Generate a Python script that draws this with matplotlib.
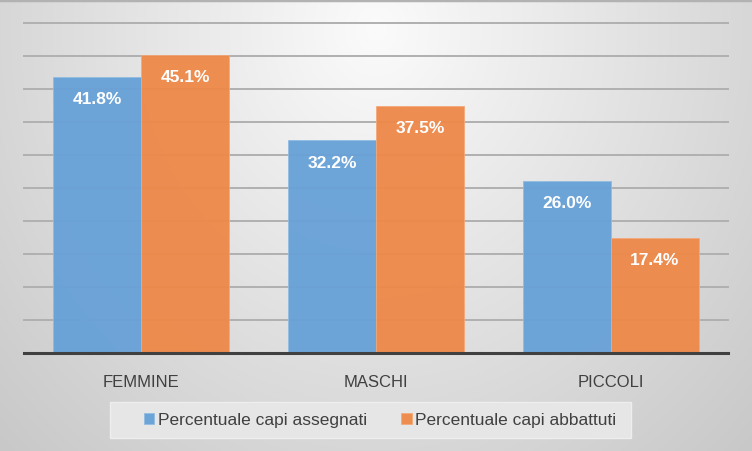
import numpy as np
import matplotlib
matplotlib.use("Agg")
import matplotlib.pyplot as plt
from matplotlib.patches import Rectangle

plt.rcParams['font.family'] = ['Liberation Sans', 'DejaVu Sans']

# Données
categories = ["FEMMINE", "MASCHI", "PICCOLI"]
assegnati = [41.8, 32.2, 26.0]
abbattuti = [45.1, 37.5, 17.4]
serie = ["Percentuale capi assegnati", "Percentuale capi abbattuti"]

blu = '#67a1d7'
arancio = '#ee8848'

W, H = 752, 452
fig = plt.figure(figsize=(W / 100, H / 100), dpi=100)

# Fond en dégradé gris
bg = fig.add_axes([0, 0, 1, 1], zorder=-10)
xx, yy = np.meshgrid(np.arange(W), np.arange(H))
d = np.sqrt(((xx - 376) / 376.0) ** 2 + ((yy - 30) / 420.0) ** 2)
val = np.clip(251 - 36 * d, 200, 251) / 255.0
bg.imshow(np.dstack([val, val, val]), aspect='auto', extent=(0, W, H, 0))
bg.set_xlim(0, W)
bg.set_ylim(H, 0)
bg.axis('off')
bg.plot([0, W], [1, 1], color='#b2b2b2', lw=2.5)

# Boîte de légende
bg.add_patch(Rectangle((110, 403), 521, 36, facecolor='#e6e6e6',
                       edgecolor='#eeeeee', lw=1.0))

ax = fig.add_axes([24 / W, 1 - 354 / H, 704 / W, 330 / H])
ax.patch.set_alpha(0)
x = np.arange(len(categories))
w = 0.375
b1 = ax.bar(x - w / 2, assegnati, w, color=blu, edgecolor='#8fbbe3',
            lw=0.6, alpha=0.95, zorder=3, label=serie[0])
b2 = ax.bar(x + w / 2, abbattuti, w, color=arancio, edgecolor='#f3a877',
            lw=0.6, alpha=0.95, zorder=3, label=serie[1])

for bars, vals in ((b1, assegnati), (b2, abbattuti)):
    for r, v in zip(bars, vals):
        ax.annotate("%.1f%%" % v, (r.get_x() + r.get_width() / 2, v),
                    xytext=(0, -15.5), textcoords='offset points',
                    ha='center', va='center', color='white',
                    fontsize=12.5, fontweight='bold', zorder=5)

ax.set_xlim(-0.5, 2.5)
ax.set_ylim(0, 50)
ax.set_yticks(np.arange(0, 51, 5))
ax.yaxis.grid(True, color='#b0b0b0', lw=1.4, zorder=0)
for gl in ax.get_ygridlines():
    gl.set_clip_on(False)
ax.set_axisbelow(True)
ax.set_yticklabels([])
ax.tick_params(axis='y', length=0)
ax.set_xticks(x)
ax.set_xticklabels(categories, fontsize=12, color='#404040')
ax.tick_params(axis='x', length=0, pad=15)
for s in ['top', 'right', 'left']:
    ax.spines[s].set_visible(False)
ax.spines['bottom'].set_color('#404040')
ax.spines['bottom'].set_linewidth(2.2)
ax.spines['bottom'].set_zorder(6)

leg = fig.legend(handles=[b1, b2], loc='center',
                 bbox_to_anchor=(380 / W, 1 - 421 / H), ncol=2,
                 frameon=False, fontsize=12.5, handlelength=0.6,
                 handleheight=0.6, handletextpad=0.2, columnspacing=2.0,
                 labelcolor='#404040')

fig.savefig('out.png', dpi=100)
